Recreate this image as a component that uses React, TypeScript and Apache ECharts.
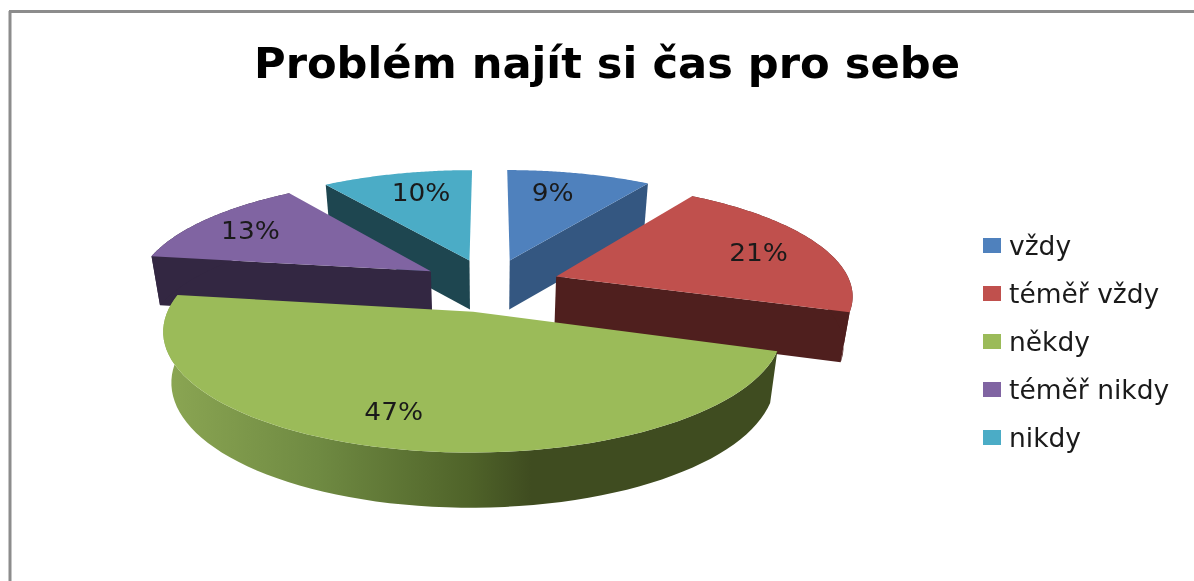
import React, { useEffect, useRef } from "react";
import * as echarts from "echarts";

const titleText = "Problém najít si čas pro sebe";
const categories = ["vždy", "téměř vždy", "někdy", "téměř nikdy", "nikdy"];
const shares = [9.3, 20.8, 47.2, 13.0, 9.7];

const topColors = ["#4f81bd", "#c0504d", "#9bbb59", "#8064a2", "#4bacc6"];
const wallColors = ["#345781", "#4f1f1e", "#3f4c20", "#332742", "#1e4650"];
const paintOrder = [2, 5, 6, 4, 3];
const labelAngleShift = [-3.2, 1.7, 3.3, -1.1, 2.4];
const labelRadius = [0.74, 0.76, 0.78, 0.78, 0.75];

const CX = 490, CY = 285, RX = 295, RY = 110.7, PERSP = 0.15, EXPLODE = 0.24;
const rad = (d: number) => (d * Math.PI) / 180;

function project(u: number, v: number, drop: boolean): number[] {
  const p = 1 / (1 + PERSP * v);
  let x = CX + RX * u * p;
  let y = CY - RY * v * p;
  if (drop) {
    x = CX + (x - CX) * 0.975;
    y += 49 + 5 * Math.max(0, -v);
  }
  return [x, y];
}

const total = shares.reduce((a, b) => a + b, 0);
const starts: number[] = [];
shares.reduce((acc, v, i) => {
  starts[i] = (acc / total) * 360;
  return acc + v;
}, 0);

function sliceShapes(i: number) {
  const a0 = starts[i];
  const a1 = a0 + (shares[i] / total) * 360;
  const mid = rad((a0 + a1) / 2);
  const ex = EXPLODE * Math.sin(mid);
  const ey = EXPLODE * Math.cos(mid);
  const arcTop: number[][] = [];
  const arcBottom: number[][] = [];
  const steps = 72;
  for (let k = 0; k <= steps; k++) {
    const t = rad(a0 + ((a1 - a0) * k) / steps);
    const u = ex + Math.sin(t);
    const v = ey + Math.cos(t);
    arcTop.push(project(u, v, false));
    arcBottom.push(project(u, v, true));
  }
  const apexTop = project(ex, ey, false);
  const apexBottom = project(ex, ey, true);
  const la = rad((a0 + a1) / 2 + labelAngleShift[i]);
  const label = project(
    ex + labelRadius[i] * Math.sin(la),
    ey + labelRadius[i] * Math.cos(la),
    false
  );
  const showStartWall = Math.sin(rad(a0)) < -0.01;
  const showEndWall = Math.sin(rad(a1)) > 0.01;
  const showOuterWall = a1 > 80 && a0 < 280;
  return { arcTop, arcBottom, apexTop, apexBottom, label, showStartWall, showEndWall, showOuterWall };
}

const frontShade = (i: number) =>
  i === 2
    ? new echarts.graphic.LinearGradient(
        165, 0, 775, 0,
        [
          { offset: 0, color: "#8ba653" },
          { offset: 0.25, color: "#6f8a42" },
          { offset: 0.5, color: "#4f6329" },
          { offset: 0.6, color: "#3f4c20" },
          { offset: 1, color: "#3f4c20" },
        ],
        true
      )
    : wallColors[i];

export default function App() {
  const ref = useRef<HTMLDivElement>(null);
  useEffect(() => {
    const chart = echarts.init(ref.current!, undefined, { renderer: "svg" });
    chart.setOption({
      animation: false,
      backgroundColor: "#ffffff",
      title: {
        text: titleText,
        left: 254,
        top: 41,
        padding: 0,
        textStyle: {
          fontFamily: "DejaVu Sans",
          fontWeight: "bold",
          fontSize: 43.2,
          color: "#000000",
        },
      },
      legend: {
        orient: "vertical",
        left: 983,
        top: 232,
        padding: 0,
        itemWidth: 18,
        itemHeight: 15,
        itemGap: 21,
        icon: "rect",
        data: categories,
        selectedMode: false,
        textStyle: {
          fontFamily: "DejaVu Sans",
          fontSize: 26.5,
          color: "#1a1a1a",
          padding: [0, 0, 0, 3],
        },
      },
      graphic: [
        { type: "line", silent: true, shape: { x1: 10, y1: 11, x2: 10, y2: 581 }, style: { stroke: "#8c8c8c", lineWidth: 3 } },
        { type: "line", silent: true, shape: { x1: 9, y1: 11.5, x2: 1194, y2: 11.5 }, style: { stroke: "#8c8c8c", lineWidth: 3 } },
      ],
      series: categories.map((name, i) => ({
        type: "custom",
        name,
        coordinateSystem: "none",
        silent: true,
        z: paintOrder[i],
        itemStyle: { color: topColors[i] },
        data: [[shares[i]]],
        renderItem: () => {
          const s = sliceShapes(i);
          const wall = (a: number[], b: number[]) => ({
            type: "polygon",
            shape: { points: [s.apexTop, a, b, s.apexBottom] },
            style: { fill: wallColors[i] },
          });
          const last = s.arcTop.length - 1;
          return {
            type: "group",
            children: [
              ...(s.showStartWall ? [wall(s.arcTop[0], s.arcBottom[0])] : []),
              ...(s.showEndWall ? [wall(s.arcTop[last], s.arcBottom[last])] : []),
              ...(s.showOuterWall
                ? [
                    {
                      type: "polygon",
                      shape: { points: [...s.arcTop, ...[...s.arcBottom].reverse()] },
                      style: { fill: frontShade(i) },
                    },
                  ]
                : []),
              {
                type: "polygon",
                shape: { points: [s.apexTop, ...s.arcTop] },
                style: { fill: topColors[i] },
              },
              {
                type: "text",
                x: s.label[0],
                y: s.label[1],
                scaleX: 1.1,
                style: {
                  text: `${Math.round(shares[i])}%`,
                  fontFamily: "DejaVu Sans",
                  fontSize: 24,
                  fill: "#1a1a1a",
                  align: "center",
                  verticalAlign: "middle",
                },
              },
            ],
          };
        },
      })),
    });
    return () => chart.dispose();
  }, []);
  return (
    <div
      ref={ref}
      style={{ position: "absolute", left: 0, top: 0, width: 1194, height: 581, filter: "blur(0.6px)" }}
    />
  );
}
